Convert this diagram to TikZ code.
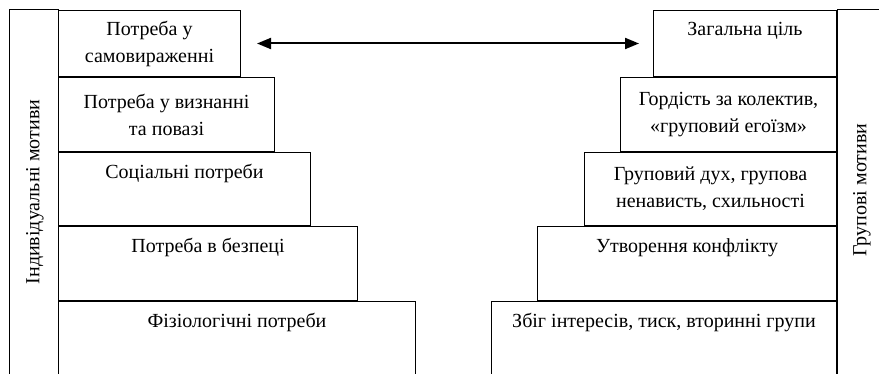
\documentclass[tikz,border=0pt]{standalone}
\usepackage{fontspec}
\setmainfont{Liberation Serif}
\newfontfamily\tnr{Liberation Serif}
\usetikzlibrary{positioning,arrows.meta}

\tikzset{
  lbox/.style={draw,align=center,inner sep=0pt,anchor=north west,font=\tnr\fontsize{12}{16.2}\selectfont},
  rbox/.style={lbox,anchor=north east},
  side/.style={rotate=90,font=\tnr\fontsize{12}{16.2}\selectfont}
}

\begin{document}
\begin{tikzpicture}[x=0.6pt,y=-0.6pt,line width=0.6pt]
  \useasboundingbox (0,0) rectangle (879,374);
  % individual motives
  \node[lbox,minimum width=109.2pt,minimum height=39.6pt] (L1) at (58,10) {Потреба у\\самовираженні};
  \node[lbox,minimum width=129.6pt,minimum height=44.4pt] (L2) at (L1.south west) {Потреба у визнанні\\та повазі};
  \node[lbox,minimum width=151.2pt,minimum height=43.8pt] (L3) at (L2.south west) {Соціальні потреби\\[5pt]\mbox{}};
  \node[lbox,minimum width=179.4pt,minimum height=44.4pt] (L4) at (L3.south west) {Потреба в безпеці\\[5pt]\mbox{}};
  \node[lbox,minimum width=214.2pt,minimum height=44.4pt] (L5) at (L4.south west) {Фізіологічні потреби\\[5pt]\mbox{}};
  % group motives
  \node[rbox,minimum width=109.8pt,minimum height=39.6pt] (R1) at (837,10) {Загальна ціль\\[1pt]\mbox{}};
  \node[rbox,minimum width=129.6pt,minimum height=44.4pt] (R2) at (R1.south east) {Гордість за колектив,\\«груповий егоїзм»};
  \node[rbox,minimum width=151.2pt,minimum height=43.8pt] (R3) at (R2.south east) {Груповий дух, групова\\ненависть, схильності};
  \node[rbox,minimum width=179.4pt,minimum height=44.4pt] (R4) at (R3.south east) {Утворення конфлікту\\[5pt]\mbox{}};
  \node[rbox,minimum width=207pt,minimum height=44.4pt] (R5) at (R4.south east) {Збіг інтересів, тиск, вторинні групи\\[5pt]\mbox{}};
  % side columns
  \node[side] (indiv) at (35,192) {Індивідуальні мотиви};
  \node[side] (group) at (862,190) {Групові мотиви};
  \draw (9,374) -- (9,10) -- (L1.north west) -- (58,374);
  \draw (879,10) -- (R1.north east) -- (837,374);
  \draw[{Triangle[length=8.4pt,width=6.6pt]}-{Triangle[length=8.4pt,width=6.6pt]},line width=1.2pt,
    shorten <=9.6pt,shorten >=8.4pt] (L1) -- (R1);
\end{tikzpicture}
\end{document}
